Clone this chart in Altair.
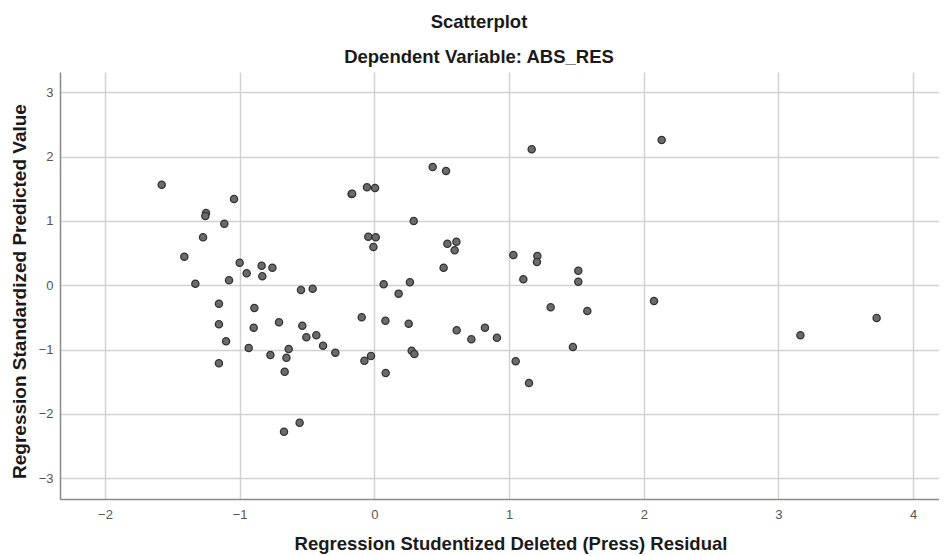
import altair as alt
import pandas as pd

# Regression Studentized Deleted (Press) Residual
resid = [
    -1.579, -1.042, -1.250, -1.255, -1.114, -1.272, -1.411, -1.000, -0.948, -0.837,
    -0.757, -0.832, -1.329, -1.079, -0.545, -0.458, -0.169, -0.165, -0.055, 0.005,
    -0.045, 0.010, -0.007,
    -1.154, -0.891, -1.154, -0.896, -0.708, -0.535, -1.101, -0.505, -0.431, -0.381,
    -0.290, -0.933, -0.772, -0.636, -0.653, -0.666, -1.154, -0.094, -0.074, -0.025,
    -0.555, -0.671,
    0.433, 0.532, 1.168, 0.292, 0.542, 0.609, 0.596, 0.514, 0.069, 0.264,
    0.180, 1.032, 1.210, 1.207, 1.106, 1.514, 1.514,
    0.082, 0.255, 0.611, 0.720, 0.821, 0.910, 0.277, 0.297, 0.084, 1.309,
    1.581, 1.474, 1.049, 1.148,
    2.133, 2.076, 3.163, 3.729,
]
# Regression Standardized Predicted Value
pred = [
    1.565, 1.342, 1.124, 1.078, 0.958, 0.746, 0.445, 0.352, 0.187, 0.305,
    0.274, 0.140, 0.025, 0.078, -0.073, -0.053, 1.420, 1.425, 1.524, 1.513,
    0.756, 0.746, 0.596,
    -0.286, -0.353, -0.607, -0.659, -0.576, -0.628, -0.871, -0.809, -0.778, -0.939,
    -1.048, -0.975, -1.084, -0.991, -1.126, -1.344, -1.213, -0.498, -1.173, -1.100,
    -2.137, -2.277,
    1.840, 1.778, 2.115, 1.000, 0.647, 0.678, 0.544, 0.274, 0.016, 0.047,
    -0.130, 0.471, 0.456, 0.362, 0.093, 0.227, 0.056,
    -0.551, -0.597, -0.700, -0.840, -0.659, -0.815, -1.017, -1.068, -1.364, -0.342,
    -0.400, -0.960, -1.182, -1.519,
    2.260, -0.244, -0.778, -0.509,
]

x_ticks = [-2, -1, 0, 1, 2, 3, 4]
y_ticks = [-3, -2, -1, 0, 1, 2, 3]

df = pd.DataFrame({"resid": resid, "pred": pred})

FONT = "Liberation Sans"

chart = (
    alt.Chart(df)
    .mark_circle(size=52, color="#6b6b6b", stroke="#333333", strokeWidth=1.3, opacity=1)
    .encode(
        x=alt.X(
            "resid:Q",
            scale=alt.Scale(domain=[-2.334, 4.192], nice=False, zero=False),
            axis=alt.Axis(
                values=x_ticks,
                title="Regression Studentized Deleted (Press) Residual",
                titleX=450.5,
                titleY=44,
                titleBaseline="middle",
                titleFontSize=18.5,
                labelPadding=9,
            ),
        ),
        y=alt.Y(
            "pred:Q",
            scale=alt.Scale(domain=[-3.324, 3.317], nice=False, zero=False),
            axis=alt.Axis(
                values=y_ticks,
                title="Regression Standardized Predicted Value",
                titleX=-41,
                titleY=219,
                titleBaseline="middle",
                titleFontSize=19,
                labelPadding=7,
            ),
        ),
    )
    .properties(
        width=879,
        height=427,
        autosize=alt.AutoSizeParams(type="none"),
        padding={"left": 52, "top": 64, "right": 0, "bottom": 56},
        title=alt.TitleParams(
            text="Scatterplot",
            subtitle="Dependent Variable: ABS_RES",
            anchor="middle",
            dx=-20.5,
            offset=6,
            font=FONT,
            fontSize=18.5,
            fontWeight="bold",
            color="#1a1a1a",
            subtitleFont=FONT,
            subtitleFontSize=18.5,
            subtitleFontWeight="bold",
            subtitleColor="#1a1a1a",
            subtitlePadding=16,
        ),
    )
    .configure_view(stroke=None)
    .configure_axis(
        grid=True,
        gridColor="#d2d2d2",
        gridWidth=1.5,
        domain=True,
        domainColor="#8a8a8a",
        domainWidth=1.5,
        ticks=False,
        labelFont=FONT,
        labelFontSize=13,
        labelColor="#555555",
        titleFont=FONT,
        titleFontWeight="bold",
        titleColor="#1a1a1a",
    )
)

chart.save("out.html", embed_options={"renderer": "svg", "actions": False})
